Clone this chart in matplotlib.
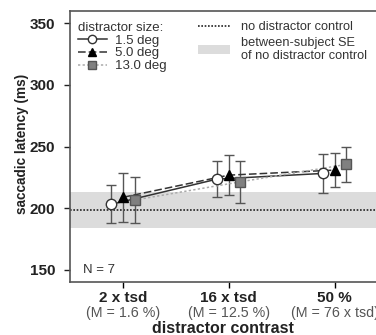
import numpy as np
import matplotlib
matplotlib.use("Agg")
from matplotlib import pyplot as plt
from matplotlib.patches import Patch
from matplotlib.lines import Line2D

plt.rcParams['font.family'] = ['Liberation Sans', 'DejaVu Sans']

# data
contrast_labels = ["2 x tsd", "16 x tsd", "50 %"]
contrast_notes = ["(M = 1.6 %)", "(M = 12.5 %)", "(M = 76 x tsd)"]
size_labels = ["1.5 deg", "5.0 deg", "13.0 deg"]
latency = [
    [203.1, 223.6, 228.2],   # 1.5 deg
    [208.8, 226.8, 230.9],   # 5.0 deg
    [206.6, 221.4, 235.5],   # 13.0 deg
]
latency_err = [
    [15.5, 14.5, 15.5],
    [20.0, 16.0, 14.0],
    [19.0, 17.0, 14.0],
]
control_mean = 198.5
control_se = (184.2, 212.8)
n_subjects = 7

# styles for the three distractor sizes
styles = [
    dict(marker="o", mfc="white", mec="#333333", color="#333333", ls="-", ms=7.5),
    dict(marker="^", mfc="black", mec="black", color="#333333", ls=(0, (5, 2)), ms=7.5),
    dict(marker="s", mfc="#808080", mec="#555555", color="#aaaaaa", ls=(0, (1.5, 1.5)), ms=7),
]
offsets = [-0.11, 0.0, 0.11]

fig = plt.figure(figsize=(3.76, 3.35), dpi=100)
ax = fig.add_axes([0.186, 0.158, 0.845, 0.809])

x = np.arange(len(contrast_labels))
ax.axhspan(control_se[0], control_se[1], color="#dcdcdc", lw=0, zorder=0)
ax.axhline(control_mean, color="#222222", ls=(0, (1, 1)), lw=1.2, zorder=1)

handles = []
for i in range(len(size_labels)):
    st = styles[i]
    xs = x + offsets[i]
    ax.errorbar(xs, latency[i], yerr=latency_err[i], fmt="none", ecolor="#555555",
                elinewidth=1.0, capsize=3.5, capthick=1.0, zorder=2)
    ax.plot(xs, latency[i], color=st["color"], ls=st["ls"], lw=1.1, zorder=3)
    ax.plot(xs, latency[i], ls="none", marker=st["marker"], mfc=st["mfc"], mec=st["mec"],
            ms=st["ms"], mew=1.0, zorder=4)
    handles.append(Line2D([], [], color=st["color"], ls=st["ls"], lw=1.1, marker=st["marker"],
                          mfc=st["mfc"], mec=st["mec"], ms=st["ms"] - 1.5, mew=1.0))

ax.set_xlim(-0.5, 2.5)
ax.set_ylim(140, 360)
ax.set_yticks([150, 200, 250, 300, 350])
ax.set_xticks(x)
ax.set_xticklabels(contrast_labels, fontsize=11, fontweight="bold", color="#222222")
ax.tick_params(axis="y", labelsize=11, colors="#222222", length=4, width=1.0,
               direction="out", pad=6.5)
ax.tick_params(axis="x", length=4, width=1.0, direction="out", pad=2.5)
for lab in ax.get_yticklabels():
    lab.set_fontweight("bold")
for i, note in enumerate(contrast_notes):
    ax.annotate(note, xy=(x[i], 0), xycoords=("data", "axes fraction"), xytext=(0, -22.5),
                textcoords="offset points", ha="center", va="center", fontsize=10.3, color="#555555")

for sp in ax.spines.values():
    sp.set_color("#555555")
    sp.set_linewidth(1.2)

ax.set_ylabel("saccadic latency (ms)", fontsize=9.8, fontweight="bold", color="#222222")
ax.yaxis.set_label_coords(-0.13, 0.51)
ax.set_xlabel("distractor contrast", fontsize=11.5, fontweight="bold", color="#222222")
ax.xaxis.set_label_coords(0.483, -0.142)

ax.text(0.04, 150, "N = %d" % n_subjects, transform=ax.get_yaxis_transform(), fontsize=9.5,
        color="#333333", va="center", ha="left")

leg1 = ax.legend(handles, size_labels, title="distractor size:", loc="upper left",
                 bbox_to_anchor=(0.0, 0.99), frameon=False, fontsize=9.5, title_fontsize=9.5,
                 handlelength=2.2, handletextpad=0.6, labelspacing=0.05, borderpad=0.3,
                 borderaxespad=0.3)
leg1._legend_box.align = "left"
for t in leg1.get_texts():
    t.set_color("#333333")
leg1.get_title().set_color("#333333")
ax.add_artist(leg1)

ctrl_handles = [Line2D([], [], color="#222222", ls=(0, (1, 1)), lw=1.2),
                Patch(facecolor="#dcdcdc", edgecolor="none")]
leg2 = ax.legend(ctrl_handles, ["no distractor control", "between-subject SE\nof no distractor control"],
                 loc="upper left", bbox_to_anchor=(0.378, 0.99), frameon=False, fontsize=9.2,
                 handlelength=2.5, handletextpad=0.85, labelspacing=0.25, borderpad=0.3,
                 borderaxespad=0.3)
for t in leg2.get_texts():
    t.set_color("#333333")

fig.savefig("out.png", dpi=100)
